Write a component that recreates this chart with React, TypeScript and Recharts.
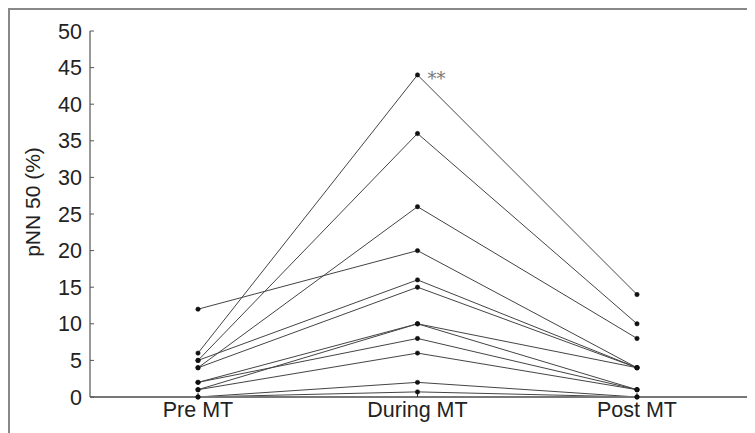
import { LineChart, Line, XAxis, YAxis, ReferenceDot } from 'recharts';

const phases = ['Pre MT', 'During MT', 'Post MT'];
const yTicks = [0, 5, 10, 15, 20, 25, 30, 35, 40, 45, 50];

// one entry per subject
const preValues = [6, 5, 4, 12, 5, 4, 2, 1, 2, 1, 0, 0];
const duringValues = [44, 36, 26, 20, 16, 15, 10, 10, 8, 6, 2, 0.7];
const postValues = [14, 10, 8, 4, 4, 4, 4, 1, 1, 1, 0, 0];

const subjects = preValues.map((_, i) => `s${i + 1}`);

const rows = phases.map((phase, p) => {
  const src = p === 0 ? preValues : p === 1 ? duringValues : postValues;
  const row: Record<string, string | number> = { phase };
  subjects.forEach((s, i) => {
    row[s] = src[i];
  });
  return row;
});

const font = 'Liberation Sans, Arial, sans-serif';

const yLabel = (props: any) => {
  const vb = props.viewBox;
  const cx = 24;
  const cy = vb.y + vb.height / 2 - 12;
  return (
    <text
      x={cx}
      y={cy}
      transform={`rotate(-90 ${cx} ${cy})`}
      textAnchor="middle"
      dominantBaseline="central"
      fontFamily={font}
      fontSize={21}
      fill="#222"
    >
      pNN 50 (%)
    </text>
  );
};

const starLabel = (props: any) => {
  const vb = props.viewBox;
  return (
    <text x={vb.x + 10} y={vb.y + 10} fontFamily="DejaVu Serif, serif" fontSize={18} fill="#777">
      **
    </text>
  );
};

export default function App() {
  return (
    <div style={{ position: 'relative', width: 747, height: 425 }}>
      <div
        style={{
          position: 'absolute',
          left: 0,
          top: 0,
          width: 747,
          height: 425,
          borderTop: '2px solid #888',
          borderLeft: '2px solid #888',
          boxSizing: 'border-box',
        }}
      />
      <LineChart
        width={747}
        height={425}
        data={rows}
        margin={{ top: 23, right: 8, bottom: 0, left: 0 }}
        style={{ position: 'absolute', left: 0, top: 0 }}
      >
        <XAxis
          dataKey="phase"
          type="category"
          padding={{ left: 108, right: 110 }}
          height={36}
          tickSize={-4}
          tickMargin={9}
          axisLine={{ stroke: '#777', strokeWidth: 2 }}
          tickLine={{ stroke: '#333' }}
          tick={{ fontFamily: font, fontSize: 21.5, fill: '#222' }}
          interval={0}
        />
        <XAxis
          xAxisId="top"
          orientation="top"
          dataKey="phase"
          height={0}
          tick={false}
          tickLine={false}
          axisLine={{ stroke: '#888', strokeWidth: 1.5 }}
        />
        <YAxis
          domain={[0, 50]}
          ticks={yTicks}
          width={82}
          tickSize={-4}
          tickMargin={12}
          interval={0}
          axisLine={{ stroke: '#777', strokeWidth: 1.5 }}
          tickLine={{ stroke: '#555' }}
          tick={{ fontFamily: font, fontSize: 21.5, fill: '#222' }}
          label={{ content: yLabel }}
        />
        <YAxis
          yAxisId="right"
          orientation="right"
          width={0}
          tick={false}
          tickLine={false}
          axisLine={{ stroke: '#222', strokeWidth: 2.5 }}
        />
        {subjects.map((s) => (
          <Line
            key={s}
            dataKey={s}
            stroke="#444"
            strokeWidth={1}
            dot={{ r: 2.2, fill: '#111', stroke: '#111', strokeWidth: 0.5 }}
            isAnimationActive={false}
          />
        ))}
        <ReferenceDot x="During MT" y={44} r={0} stroke="none" label={{ content: starLabel }} />
      </LineChart>
    </div>
  );
}
